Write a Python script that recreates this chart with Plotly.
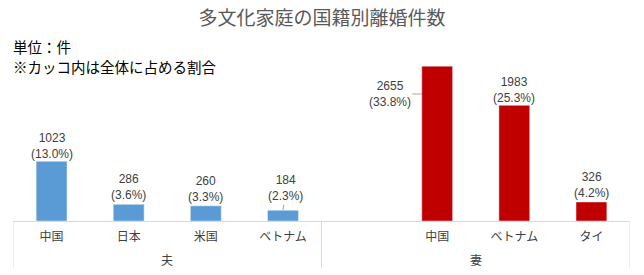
import plotly.graph_objects as go

groups = ["夫", "夫", "夫", "夫", "妻", "妻", "妻", "妻"]
countries = ["中国", "日本", "米国", "ベトナム", "", "中国", "ベトナム", "タイ"]
counts = [1023, 286, 260, 184, None, 2655, 1983, 326]
shares = ["13.0%", "3.6%", "3.3%", "2.3%", "", "33.8%", "25.3%", "4.2%"]
notes = ["単位：件", "※カッコ内は全体に占める割合"]
group_colors = {"夫": "#5B9BD5", "妻": "#C00000"}

CJK = "Noto Sans CJK JP"
LAT = "Liberation Sans, Arial, Noto Sans CJK JP"
LINE = "#D9D9D9"
TOP, BOT = 46, 54
PLOT_H = 275 - TOP - BOT


def px_to_paper(p):
    return (275 - BOT - p) / PLOT_H


pos = list(range(len(countries)))
fig = go.Figure()
fig.add_trace(go.Bar(
    x=pos, y=counts, marker_color=[group_colors[g] for g in groups], width=0.4,
    hoverinfo="skip",
))

annotations = []
for i, (c, s) in enumerate(zip(counts, shares)):
    if c is None:
        continue
    txt = f"{c}<br>({s})"
    lab_font = dict(size=12, color="#404040", family=LAT)
    if c == max(v for v in counts if v is not None):
        annotations.append(dict(
            x=i - 0.2, y=c * 0.82, xref="x", yref="y", text=txt,
            showarrow=True, arrowhead=0, arrowwidth=1, arrowcolor="#A6A6A6",
            ax=-32, ay=0, font=lab_font,
        ))
    elif c == 184:
        annotations.append(dict(
            x=i, y=c, xref="x", yref="y", text=txt,
            showarrow=True, arrowhead=0, arrowwidth=1, arrowcolor="#A6A6A6",
            ax=3, ay=-22, standoff=0, font=lab_font,
        ))
    else:
        annotations.append(dict(
            x=i, y=c, xref="x", yref="y", text=txt, showarrow=False,
            yanchor="bottom", yshift=-2 if c > 1000 else 0, font=lab_font,
        ))

# group labels and dividers
shapes = []
bounds = [0]
for i in range(1, len(groups)):
    if groups[i] != groups[i - 1]:
        bounds.append(i)
bounds.append(len(groups))
for a, b in zip(bounds[:-1], bounds[1:]):
    annotations.append(dict(
        x=(a + b - 1) / 2, y=px_to_paper(259), xref="x", yref="paper",
        text=groups[a], showarrow=False, yanchor="middle",
        font=dict(size=12, color="#404040", family=CJK),
    ))
for bd in bounds:
    shapes.append(dict(
        type="line", xref="x", yref="paper", x0=bd - 0.5, x1=bd - 0.5,
        y0=0, y1=px_to_paper(268), line=dict(color=LINE, width=1),
    ))

for line, p in zip(notes, [47, 66]):
    annotations.append(dict(
        x=0, y=px_to_paper(p), xref="paper", yref="paper", xanchor="left",
        yanchor="middle", xshift=-2, align="left", showarrow=False,
        text=line, font=dict(size=14.5, color="#000000", family=CJK),
    ))

fig.update_layout(
    width=644, height=275,
    margin=dict(l=13, r=14, t=TOP, b=BOT),
    paper_bgcolor="white", plot_bgcolor="white",
    showlegend=False,
    title=dict(text="多文化家庭の国籍別離婚件数", x=0.5, xanchor="center",
               y=1 - 18 / 275, yanchor="middle",
               font=dict(size=19, color="#595959", family=CJK)),
    font=dict(family=CJK, color="#595959", size=12),
    annotations=annotations,
    shapes=shapes,
    xaxis=dict(
        range=[-0.5, len(countries) - 0.5], showline=True, linecolor=LINE,
        linewidth=1, showgrid=False, zeroline=False, ticks="",
        tickmode="array", tickvals=pos, ticktext=countries,
        ticklabelstandoff=5,
        tickfont=dict(size=12, color="#404040", family=CJK),
    ),
    yaxis=dict(range=[0, 3000], visible=False, showgrid=False, zeroline=False),
)

fig.write_html("out.html")
